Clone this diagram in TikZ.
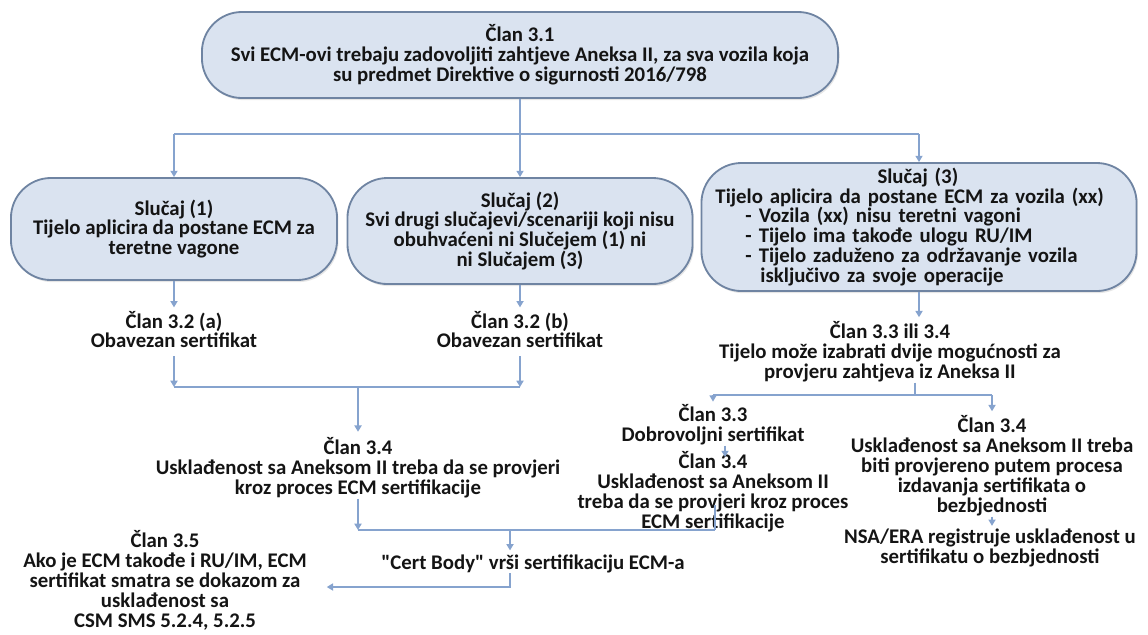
\documentclass[tikz,border=0pt]{standalone}
\usepackage{fontspec}
\setmainfont{Carlito}
\newfontfamily\quotefont{Carlito}
\usetikzlibrary{arrows.meta,positioning,calc,shadows}
\definecolor{ink}{HTML}{141414}
\definecolor{boxfill}{HTML}{DAE3F0}
\definecolor{boxline}{HTML}{6F84A2}
\definecolor{wire}{HTML}{86A3CE}

\begin{document}
\begin{tikzpicture}[x=0.025cm,y=-0.025cm,
  casebox/.style={draw=boxline, fill=boxfill, line width=1.3pt, rounded corners=1cm, align=center, text=ink,
    font=\bfseries\fontsize{14.8}{14.2}\selectfont, inner sep=0pt,
    drop shadow={opacity=0.2, shadow xshift=1pt, shadow yshift=-1.5pt}},
  note/.style={align=center, text=ink, font=\bfseries\fontsize{14.8}{14.2}\selectfont, inner sep=0pt},
  link/.style={draw=wire, line width=1.3pt},
  flow/.style={link, -{Triangle[length=4.5pt,width=5pt]}}]
  \useasboundingbox (0,0) rectangle (1148,634);

  % boxes
  \node[casebox, minimum width=15.9cm, minimum height=2.15cm] (top) at (520,55) {Član 3.1\\Svi ECM-ovi trebaju zadovoljiti zahtjeve Aneksa II, za sva vozila koja\\su predmet Direktive o sigurnosti 2016/798};
  \node[casebox, minimum width=8.15cm, minimum height=2.55cm] (case1) at (174,229) {Slučaj (1)\\Tijelo aplicira da postane ECM za\\teretne vagone};
  \node[casebox, minimum width=8.625cm, minimum height=2.65cm] (case2) at (520,231) {Slučaj (2)\\Svi drugi slučajevi/scenariji koji nisu\\obuhvaćeni ni Slučejem (1) ni\\ni Slučajem (3)};
  \node[casebox, align=left, text width=10.175cm, inner xsep=0.35cm, minimum height=3.2cm] (case3) at (919,227) {\hspace*{4.05cm}Slučaj (3)\\Tijelo aplicira da postane ECM za vozila (xx)\\\hspace*{0.75cm}- Vozila (xx) nisu teretni vagoni\\\hspace*{0.75cm}- Tijelo ima takođe ulogu RU/IM\\\hspace*{0.75cm}- Tijelo zaduženo za održavanje vozila\\\hspace*{1.125cm}isključivo za svoje operacije};

  % articles
  \node[note, font=\bfseries\fontsize{14.8}{13.5}\selectfont] (art32a) at (174,330) {Član 3.2 (a)\\Obavezan sertifikat};
  \node[note, font=\bfseries\fontsize{14.8}{13.5}\selectfont] (art32b) at (520,330) {Član 3.2 (b)\\Obavezan sertifikat};
  \node[note] (art34) at (358,468) {Član 3.4\\Usklađenost sa Aneksom II treba da se provjeri\\kroz proces ECM sertifikacije};
  \node[note] (choice) at (890,352) {Član 3.3 ili 3.4\\Tijelo može izabrati dvije mogućnosti za\\provjeru zahtjeva iz Aneksa II};
  \node[note] (art33) at (713,425) {Član 3.3\\Dobrovoljni sertifikat};
  \node[note] (art34l) at (713,492) {Član 3.4\\Usklađenost sa Aneksom II\\treba da se provjeri kroz proces\\ECM sertifikacije};
  \node[note] (art34r) at (992,466) {Član 3.4\\Usklađenost sa Aneksom II treba\\biti provjereno putem procesa\\izdavanja sertifikata o\\bezbjednosti};
  \node[note] (nsa) at (990,548) {NSA/ERA registruje usklađenost u\\sertifikatu o bezbjednosti};
  \node[note] (cert) at (533,564) {\quotefont "Cert Body" vrši sertifikaciju ECM-a};
  \node[note] (art35) at (165,580) {Član 3.5\\Ako je ECM takođe i RU/IM, ECM\\sertifikat smatra se dokazom za\\usklađenost sa\\CSM SMS 5.2.4, 5.2.5};

  \coordinate (hub) at (520,134);
  \coordinate (join) at (358,387);
  \coordinate (fork) at (915,395);
  \coordinate (nudge) at (725,0);
  \coordinate (merge) at (715,530);
  \coordinate (drop) at (510,530);
  \coordinate (turn) at (510,587);

  % connectors
  \draw[link] (top.south) -- (hub);
  \draw[link] (case1.north |- hub) -- (case3.north |- hub);
  \draw[flow] (case1.north |- hub) -- (case1.north);
  \draw[flow] (hub) -- (case2.north);
  \draw[flow] (case3.north |- hub) -- (case3.north);
  \draw[flow, shorten >=3pt] (case1.south) -- (art32a.north);
  \draw[flow, shorten >=3pt] (case2.south) -- (art32b.north);
  \draw[flow] (art32a.south) ++(0,8) -- (art32a.south |- join);
  \draw[flow] (art32b.south) ++(0,8) -- (art32b.south |- join);
  \draw[link] (art32a.south |- join) -- (art32b.south |- join);
  \draw[flow, shorten >=4pt] (join) -- (art34.north);
  \draw[flow, shorten >=3pt] (case3.south) -- (case3.south |- choice.north);
  \draw[link] (choice.south -| fork) -- (fork);
  \draw[link] (art33.north |- fork) -- (art34r.north |- fork);
  \draw[flow, shorten >=2pt] (art33.north |- fork) -- (art33.north);
  \draw[flow, shorten >=3pt] (art34r.north |- fork) -- (art34r.north);
  \draw[flow] (art33.south -| nudge) -- ([yshift=-4pt]art34l.north -| nudge);
  \draw[link] (merge) -- ++(0,-25);
  \draw[flow] (art34.south) -- (art34.south |- merge);
  \draw[link] (art34.south |- merge) -- (merge);
  \draw[flow, shorten >=3pt] (drop) -- (drop |- cert.north);
  \draw[flow, shorten >=14pt] (drop |- cert.south) -- (turn) -- (turn -| art35.east);
  \draw[flow, shorten >=2pt] (art34r.south) -- (nsa.north -| art34r.south);
\end{tikzpicture}
\end{document}
